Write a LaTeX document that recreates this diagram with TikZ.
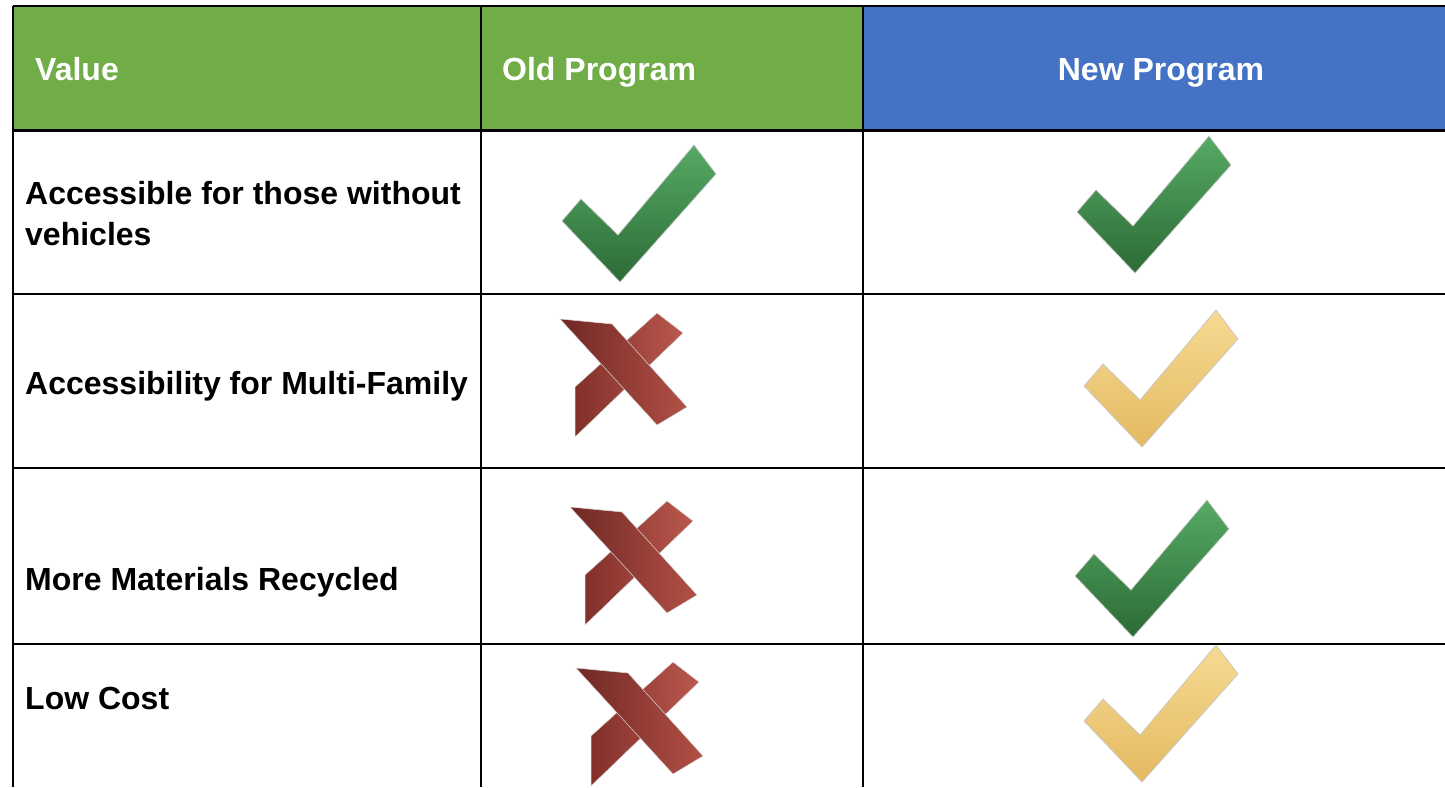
\documentclass[tikz,border=0pt]{standalone}
\usepackage{fontspec}
\setmainfont{Liberation Sans}
\definecolor{hdrgreen}{HTML}{70AD47}
\definecolor{hdrblue}{HTML}{4472C4}
\definecolor{chkgreenT}{RGB}{86,170,100}
\definecolor{chkgreenB}{RGB}{44,106,54}
\definecolor{chkyellowT}{RGB}{246,218,146}
\definecolor{chkyellowB}{RGB}{228,186,98}
\definecolor{xdarkL}{RGB}{112,40,36}
\definecolor{xdarkR}{RGB}{178,80,70}
\definecolor{xlightL}{RGB}{130,48,42}
\definecolor{xlightR}{RGB}{186,88,78}
\begin{document}
\begin{tikzpicture}[x=1pt,y=-1pt,
  cell/.style={font=\fontsize{32}{41}\selectfont\bfseries, inner sep=0pt, anchor=base west, align=left},
  hdr/.style={cell, text=white},
  gridline/.style={line width=2.5pt, black},
  pics/check/.style 2 args={code={
    \shade[top color=#1, bottom color=#2, draw=gray!45, line width=0.7pt]
      (0,0) -- (-58,-61) -- (-39,-83) -- (-2,-47) -- (74,-137) -- (96,-108) -- cycle;}},
  pics/cross/.style={code={
    \shade[left color=xlightL, right color=xlightR, draw=gray!30, line width=0.5pt]
      (0,0) -- (0,-50) -- (82,-124) -- (108,-104) -- cycle;
    \shade[left color=xdarkL, right color=xdarkR, draw=gray!30, line width=0.5pt]
      (-15,-118) -- (37,-113) -- (112,-30) -- (82,-12) -- cycle;}}
]
\useasboundingbox (0,0) rectangle (1445,787);
% header fills
\fill[hdrgreen] (13,6) rectangle (863,130);
\fill[hdrblue] (863,6) rectangle (1445,130);
% grid
\draw[gridline] (13,6) -- (1445,6);
\draw[gridline, line width=3pt] (13,130) -- (1445,130);
\draw[gridline] (13,294) -- (1445,294);
\draw[gridline] (13,468) -- (1445,468);
\draw[gridline] (13,644) -- (1445,644);
\draw[gridline] (13,6) -- (13,787);
\draw[gridline] (481,6) -- (481,787);
\draw[gridline] (863,6) -- (863,787);
% header texts
\node[hdr] (hv) at (35,80) {Value};
\node[hdr] (ho) at (502,80) {Old Program};
\node[hdr, anchor=base] (hn) at (1161,80) {New Program};
% row texts
\node[cell] (r1) at (25,245) {Accessible for those without\\vehicles};
\node[cell] (r2) at (25,394) {Accessibility for Multi-Family};
\node[cell] (r3) at (25,590) {More Materials Recycled};
\node[cell] (r4) at (25,709) {Low Cost};
% marks
\pic at (620,282) {check={chkgreenT}{chkgreenB}};
\pic at (1135,273) {check={chkgreenT}{chkgreenB}};
\pic at (1142,447) {check={chkyellowT}{chkyellowB}};
\pic at (1133,637) {check={chkgreenT}{chkgreenB}};
\pic at (1142,782) {check={chkyellowT}{chkyellowB}};
\pic at (575,437) {cross};
\pic at (585,625) {cross};
\pic at (591,786) {cross};
\end{tikzpicture}
\end{document}
